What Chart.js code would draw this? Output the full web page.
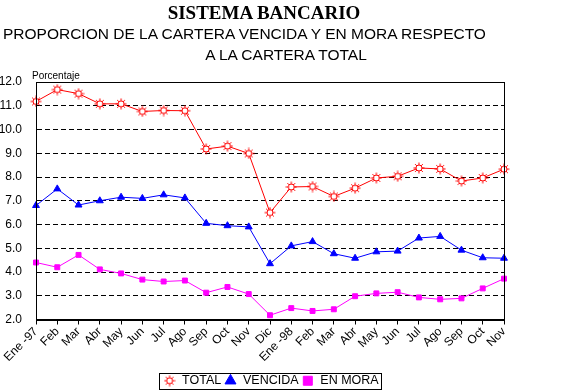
<!DOCTYPE html>
<html>
<head>
<meta charset="utf-8">
<script src="https://cdn.jsdelivr.net/npm/chart.js@4"></script>
<style>
  body { margin: 0; background: #fff; }
  #wrap { position: relative; width: 562px; height: 390px; }
  .txt { position: absolute; white-space: nowrap; color: #000; line-height: 1; }
  #t1 { font: bold 19px 'Liberation Serif', serif; left: 0; width: 528px; text-align: center; top: 2px; }
  #t2 { font: 15.5px 'Liberation Sans', Arial, sans-serif; left: 3px; top: 25px; }
  #t3 { font: 15.5px 'Liberation Sans', Arial, sans-serif; left: 0; width: 572px; text-align: center; top: 46px; }
  #t4 { font: 10px 'Liberation Sans', Arial, sans-serif; left: 32px; top: 70px; }
</style>
</head>
<body>
<div id="wrap">
  <canvas id="c" width="562" height="390"></canvas>
  <div class="txt" id="t1">SISTEMA BANCARIO</div>
  <div class="txt" id="t2">PROPORCION DE LA CARTERA VENCIDA Y EN MORA RESPECTO</div>
  <div class="txt" id="t3">A LA CARTERA TOTAL</div>
  <div class="txt" id="t4">Porcentaje</div>
</div>
<script>
const labels = ['Ene -97', 'Feb', 'Mar', 'Abr', 'May', 'Jun', 'Jul', 'Ago', 'Sep', 'Oct', 'Nov', 'Dic',
  'Ene -98', 'Feb', 'Mar', 'Abr', 'May', 'Jun', 'Jul', 'Ago', 'Sep', 'Oct', 'Nov'];
const totalValues = [11.18, 11.68, 11.51, 11.08, 11.08, 10.76, 10.8, 10.79, 9.18, 9.3, 8.99, 6.5,
  7.58, 7.6, 7.18, 7.53, 7.96, 8.03, 8.38, 8.34, 7.83, 7.96, 8.33];
const vencidaValues = [6.8, 7.5, 6.82, 7.0, 7.15, 7.1, 7.25, 7.12, 6.05, 5.95, 5.9, 4.35,
  5.1, 5.28, 4.77, 4.58, 4.85, 4.88, 5.43, 5.5, 4.92, 4.6, 4.58];
const moraValues = [4.4, 4.2, 4.72, 4.11, 3.94, 3.68, 3.6, 3.64, 3.13, 3.37, 3.07, 2.18,
  2.48, 2.36, 2.43, 2.98, 3.1, 3.15, 2.93, 2.85, 2.89, 3.31, 3.72];

// red "sun" marker used by the TOTAL series
const makeSun = () => {
  const cv = document.createElement('canvas');
  cv.width = 12; cv.height = 12;
  const g = cv.getContext('2d');
  g.strokeStyle = 'rgb(255,0,0)';
  g.lineWidth = 1;
  g.fillStyle = '#fff';
  g.beginPath();
  g.arc(6, 6, 3, 0, Math.PI * 2);
  g.fill();
  g.stroke();
  for (let i = 0; i < 8; i++) {
    const a = i * Math.PI / 4;
    g.beginPath();
    g.moveTo(6 + Math.cos(a) * 3, 6 + Math.sin(a) * 3);
    g.lineTo(6 + Math.cos(a) * 5.5, 6 + Math.sin(a) * 5.5);
    g.stroke();
  }
  return cv;
};
const sun = makeSun();

// legend sits a bit lower and right of where chart.js centres it
const LEG_DX = 19, LEG_DY = 7;

const frame = {
  id: 'frame',
  beforeDraw(chart) {
    const l = chart.legend;
    l.left += LEG_DX; l.right += LEG_DX;
    l.top += LEG_DY; l.bottom += LEG_DY;
  },
  afterDraw(chart) {
    const { ctx, chartArea: a } = chart;
    ctx.save();
    ctx.strokeStyle = '#000';
    ctx.lineWidth = 1;
    ctx.strokeRect(Math.round(a.left) + 0.5, Math.round(a.top) + 0.5,
      Math.round(a.right - a.left), Math.round(a.bottom - a.top));
    // box round the legend items only
    const boxes = chart.legend.legendHitBoxes;
    if (boxes && boxes.length) {
      const x0 = Math.min(...boxes.map(b => b.left)) - 4 + LEG_DX;
      const x1 = Math.max(...boxes.map(b => b.left + b.width)) + 3 + LEG_DX;
      const y0 = Math.min(...boxes.map(b => b.top)) - 2 + LEG_DY;
      const y1 = Math.max(...boxes.map(b => b.top + b.height)) + 1 + LEG_DY;
      ctx.strokeRect(Math.round(x0) + 0.5, Math.round(y0) + 0.5, Math.round(x1 - x0), Math.round(y1 - y0));
    }
    ctx.restore();
  }
};

new Chart(document.getElementById('c'), {
  type: 'line',
  data: {
    labels,
    datasets: [
      {
        label: 'TOTAL', data: totalValues, borderColor: 'rgb(255,0,0)', backgroundColor: 'rgb(255,0,0)',
        borderWidth: 1, pointStyle: sun, pointRadius: 5, tension: 0
      },
      {
        label: 'VENCIDA', data: vencidaValues, borderColor: 'rgb(0,0,255)', backgroundColor: 'rgb(0,0,255)',
        borderWidth: 1, pointStyle: 'triangle', pointRadius: 4, tension: 0
      },
      {
        label: 'EN MORA', data: moraValues, borderColor: 'rgb(255,0,255)', backgroundColor: 'rgb(255,0,255)',
        borderWidth: 1, pointStyle: 'rect', pointRadius: 3.5, tension: 0
      }
    ]
  },
  options: {
    responsive: false,
    animation: false,
    layout: { padding: { top: 82, right: 58, left: 0, bottom: 0 } },
    plugins: {
      title: { display: false },
      tooltip: { enabled: false },
      legend: {
        position: 'bottom',
        labels: {
          usePointStyle: true,
          color: '#000',
          font: { family: "'Liberation Sans', Arial, sans-serif", size: 12.5 },
          padding: 3,
          boxHeight: 9
        }
      }
    },
    scales: {
      x: {
        offset: false,
        grid: { drawOnChartArea: false, drawTicks: true, tickLength: 5, color: '#000' },
        border: { color: '#000' },
        ticks: { color: '#000', font: { family: "'Liberation Sans', Arial, sans-serif", size: 12 },
          maxRotation: 45, minRotation: 45, autoSkip: false, padding: 0 },
        afterFit: (s) => { s.height = 45; }
      },
      y: {
        min: 2, max: 12,
        grid: { color: '#000', drawTicks: false },
        border: { color: '#000', dash: [5, 3] },
        ticks: { stepSize: 1, color: '#000', font: { family: "'Liberation Sans', Arial, sans-serif", size: 12 },
          padding: 14, callback: (v) => v.toFixed(1) },
        afterFit: (s) => { s.width = 36; }
      }
    }
  },
  plugins: [frame]
});
</script>
</body>
</html>
